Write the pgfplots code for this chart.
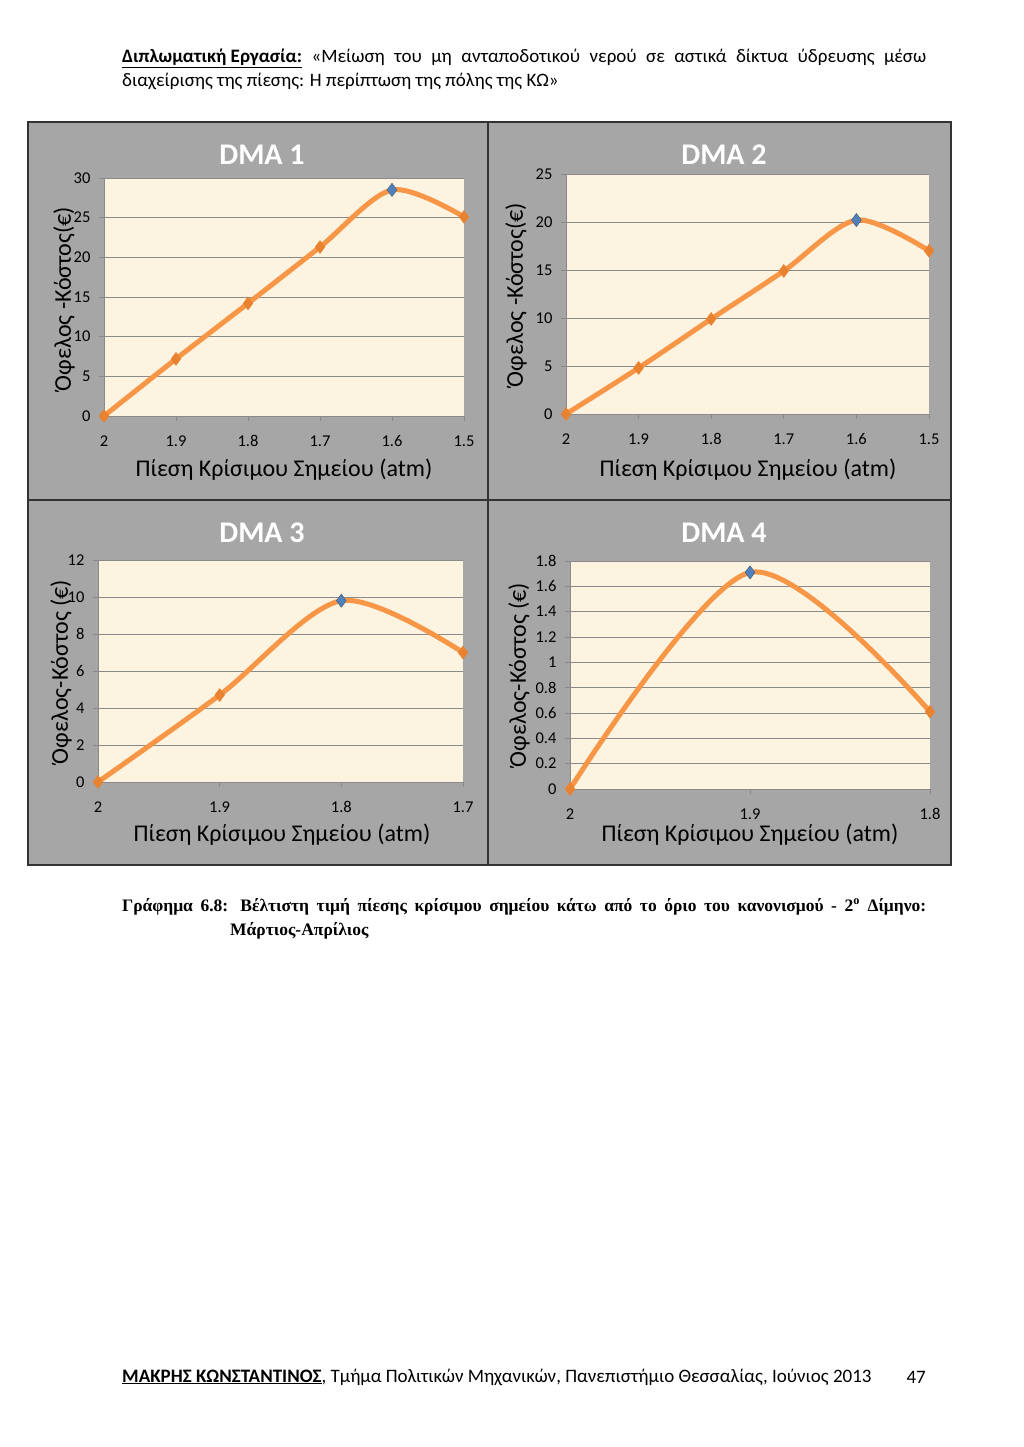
\documentclass[border=0pt]{standalone}
\usepackage{pgfplots}
\pgfplotsset{compat=1.18}
\usepackage{fontspec}
\setmainfont{Carlito}
\newfontfamily\timesf{Liberation Serif}
\definecolor{panelgray}{HTML}{A6A6A6}
\definecolor{cream}{HTML}{FCF4E0}
\definecolor{lineor}{HTML}{F79646}
\definecolor{markor}{HTML}{E9822F}
\definecolor{markblue}{HTML}{4F81BD}
\definecolor{gridg}{HTML}{8A8A8A}
\pgfplotsset{dma/.style={
  scale only axis, enlargelimits=false, clip=false,
  axis lines*=left, axis line style={gridg, line width=0.8pt},
  axis background/.style={fill=cream},
  ymajorgrids, grid style={gridg, line width=0.8pt},
  tick style={gridg, line width=0.8pt}, tick align=outside, major tick length=5pt,
  ticklabel style={font=\fontsize{16.5}{18}\selectfont, text=black},
  /pgf/number format/assume math mode=true,
  xticklabel style={yshift=-11pt},
  yticklabel style={xshift=-5pt},
  every axis plot/.append style={smooth},
}}
\tikzset{
  ttl/.style={font=\fontsize{30}{32}\selectfont\bfseries, text=white},
  xl/.style={font=\fontsize{24}{26}\selectfont},
  yl/.style={font=\fontsize{24}{26}\selectfont, rotate=90},
  orline/.style={lineor, line width=5pt, mark=diamond*, mark size=6.5pt, mark options={fill=markor, draw=markor, line width=0.4pt}},
  bluemark/.style={only marks, mark=diamond*, mark size=6.5pt, mark options={fill=markblue, draw=markblue!75!black, line width=0.4pt}},
}
\begin{document}
\begin{tikzpicture}
% page
\fill[white] (0pt,0pt) rectangle (1024pt,-1447pt);
% header
\node[anchor=north west, inner sep=0pt, text width=804pt, align=justify, font=\fontsize{19}{24}\selectfont] at (122pt,-49pt)
 {\textbf{\underline{Διπλωματική Εργασία:}} «Μείωση του μη ανταποδοτικού νερού σε αστικά δίκτυα ύδρευσης μέσω\linebreak διαχείρισης της πίεσης: Η περίπτωση της πόλης της ΚΩ»};
% panels
\fill[panelgray] (28pt,-122pt) rectangle (951pt,-865pt);
\draw[black!80, line width=1.2pt] (28pt,-122pt) rectangle (951pt,-865pt);
\draw[black!80, line width=1.2pt] (488pt,-122pt) -- (488pt,-865pt);
\draw[black!80, line width=1.2pt] (28pt,-500pt) -- (951pt,-500pt);

% DMA 1
\begin{axis}[dma, at={(104pt,-416pt)}, anchor=south west, width=360pt, height=238pt,
  xmin=0, xmax=5, ymin=0, ymax=30, xtick={0,...,5}, xticklabels={2,1.9,1.8,1.7,1.6,1.5},
  ytick={0,5,10,15,20,25,30}]
\addplot[orline] coordinates {(0,0) (1,7.2) (2,14.2) (3,21.3) (4,28.5) (5,25.1)};
\addplot[bluemark] coordinates {(4,28.5)};
\end{axis}
\node[ttl] at (262pt,-155pt) {DMA 1};
\node[yl] at (64pt,-299pt) {Όφελος -Κόστος(€)};
\node[xl] at (284pt,-470pt) {Πίεση Κρίσιμου Σημείου (atm)};

% DMA 2
\begin{axis}[dma, at={(566pt,-414pt)}, anchor=south west, width=363pt, height=240pt,
  xmin=0, xmax=5, ymin=0, ymax=25, xtick={0,...,5}, xticklabels={2,1.9,1.8,1.7,1.6,1.5},
  ytick={0,5,10,15,20,25}]
\addplot[orline] coordinates {(0,0) (1,4.8) (2,9.9) (3,14.9) (4,20.2) (5,17.0)};
\addplot[bluemark] coordinates {(4,20.2)};
\end{axis}
\node[ttl] at (724pt,-155pt) {DMA 2};
\node[yl] at (516pt,-295pt) {Όφελος -Κόστος(€)};
\node[xl] at (748pt,-470pt) {Πίεση Κρίσιμου Σημείου (atm)};

% DMA 3
\begin{axis}[dma, at={(98pt,-782pt)}, anchor=south west, width=365pt, height=222pt,
  xmin=0, xmax=3, ymin=0, ymax=12, xtick={0,...,3}, xticklabels={2,1.9,1.8,1.7},
  ytick={0,2,4,6,8,10,12}]
\addplot[orline] coordinates {(0,0) (1,4.7) (2,9.8) (3,7.0)};
\addplot[bluemark] coordinates {(2,9.8)};
\end{axis}
\node[ttl] at (262pt,-533pt) {DMA 3};
\node[yl] at (61pt,-672pt) {Όφελος-Κόστος (€)};
\node[xl] at (282pt,-835pt) {Πίεση Κρίσιμου Σημείου (atm)};

% DMA 4
\begin{axis}[dma, at={(570pt,-789pt)}, anchor=south west, width=360pt, height=228pt,
  xmin=0, xmax=2, ymin=0, ymax=1.8, xtick={0,1,2}, xticklabels={2,1.9,1.8},
  ytick={0,0.2,0.4,0.6,0.8,1,1.2,1.4,1.6,1.8}]
\addplot[orline] coordinates {(0,0) (1,1.71) (2,0.61)};
\addplot[bluemark] coordinates {(1,1.71)};
\end{axis}
\node[ttl] at (724pt,-533pt) {DMA 4};
\node[yl] at (519pt,-675pt) {Όφελος-Κόστος (€)};
\node[xl] at (750pt,-835pt) {Πίεση Κρίσιμου Σημείου (atm)};

% caption
\node[anchor=north west, inner sep=0pt, text width=804pt, align=justify, font=\timesf\bfseries\fontsize{17.5}{24}\selectfont] at (122pt,-898pt)
 {Γράφημα 6.8: Βέλτιστη τιμή πίεσης κρίσιμου σημείου κάτω από το όριο του κανονισμού - 2\textsuperscript{ο} Δίμηνο:\linebreak \hspace*{108pt}Μάρτιος-Απρίλιος};

% footer
\node[anchor=west, inner sep=0pt, font=\fontsize{19}{22}\selectfont] at (122pt,-1377pt)
 {\textbf{\underline{ΜΑΚΡΗΣ ΚΩΝΣΤΑΝΤΙΝΟΣ}}, Τμήμα Πολιτικών Μηχανικών, Πανεπιστήμιο Θεσσαλίας, Ιούνιος 2013};
\node[anchor=east, inner sep=0pt, font=\fontsize{19}{22}\selectfont] at (926pt,-1377pt) {47};
\end{tikzpicture}
\end{document}
